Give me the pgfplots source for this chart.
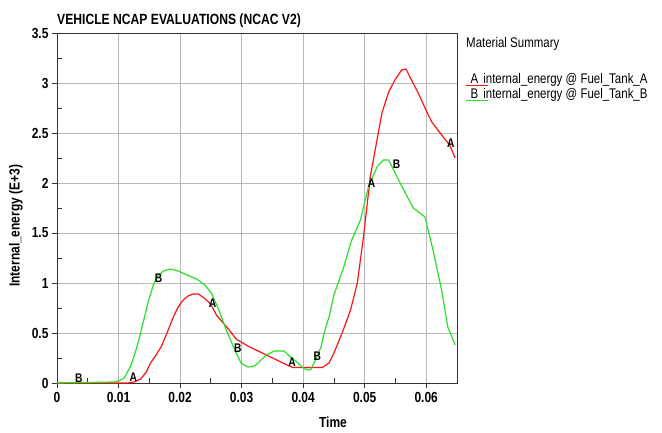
\documentclass[border=0pt]{standalone}
\usepackage{pgfplots}
\pgfplotsset{compat=1.18}
\usepackage{fontspec}
\setmainfont{Liberation Sans}[FakeStretch=0.82]
\definecolor{cred}{RGB}{255,20,20}
\definecolor{cgreen}{RGB}{40,225,40}
\newcommand{\tfont}{\fontsize{14.6}{16}\selectfont}
\newcommand{\lfont}{\fontsize{14}{16}\selectfont}
\begin{document}
\begin{tikzpicture}[x=1pt,y=1pt]
\begin{axis}[
 scale only axis, width=400pt, height=350pt,
 xmin=0, xmax=0.065, ymin=0, ymax=3.5,
 scaled x ticks=false, scaled y ticks=false,
 xtick={0,0.01,0.02,0.03,0.04,0.05,0.06},
 xticklabels={0,0.01,0.02,0.03,0.04,0.05,0.06},
 ytick={0,0.5,1,1.5,2,2.5,3,3.5},
 yticklabels={0,0.5,1,1.5,2,2.5,3,3.5},
 xtick pos=bottom, ytick pos=left, tick align=outside, major tick length=5pt,
 grid=major, major grid style={gray!55, line width=0.8pt},
 axis line style={black!80, line width=0.8pt},
 tick style={black!80, line width=0.8pt},
 ticklabel style={font=\tfont\bfseries},
 xticklabel style={yshift=-1pt},
 extra x ticks={0.005,0.015,0.025,0.035,0.045,0.055},
 extra x tick labels={},
 extra x tick style={xmajorgrids=false, tick align=inside},
 extra y ticks={0.25,0.75,1.25,1.75,2.25,2.75,3.25},
 extra y tick labels={},
 extra y tick style={ymajorgrids=false, tick align=inside},
 clip=false,
]
\addplot[cred, line width=1.2pt] coordinates {
(0,0) (0.0115,0) (0.0125,0.01) (0.0136,0.04) (0.0145,0.11) (0.0152,0.2)
(0.0161,0.28) (0.017,0.37) (0.018,0.52) (0.0189,0.66) (0.0197,0.76)
(0.0205,0.83) (0.0213,0.87) (0.0221,0.89) (0.023,0.89) (0.0239,0.85)
(0.0248,0.80) (0.0254,0.74) (0.0259,0.68) (0.027,0.6) (0.028,0.53)
(0.0291,0.44) (0.0302,0.40) (0.0313,0.36) (0.0327,0.32) (0.034,0.28)
(0.0354,0.24) (0.0367,0.20) (0.0383,0.155) (0.0431,0.155) (0.0442,0.20)
(0.045,0.30) (0.0458,0.42) (0.0467,0.56) (0.0477,0.73) (0.0488,1.0)
(0.0498,1.46) (0.0509,2.06) (0.052,2.43) (0.0528,2.70) (0.0539,2.91)
(0.0549,3.03) (0.056,3.13) (0.0567,3.14) (0.0576,3.03) (0.0587,2.90)
(0.0601,2.71) (0.0609,2.61) (0.0625,2.48) (0.0638,2.38) (0.0647,2.25)
};
\addplot[cgreen, line width=1.2pt] coordinates {
(0,0) (0.0092,0.01) (0.01,0.02) (0.0109,0.05) (0.0119,0.16) (0.0126,0.28)
(0.0133,0.43) (0.0141,0.63) (0.0149,0.83) (0.0156,0.97) (0.0162,1.06)
(0.0173,1.12) (0.0184,1.14) (0.0197,1.12) (0.0211,1.08) (0.0227,1.04)
(0.024,0.98) (0.0251,0.90) (0.0258,0.80) (0.0265,0.70) (0.0275,0.53)
(0.0282,0.43) (0.0289,0.33) (0.0299,0.20) (0.031,0.16) (0.0321,0.17)
(0.033,0.22) (0.034,0.28) (0.0353,0.32) (0.0369,0.32) (0.0379,0.26)
(0.0388,0.22) (0.0402,0.14) (0.0412,0.13) (0.042,0.23) (0.0429,0.36)
(0.0434,0.5) (0.0442,0.66) (0.045,0.88) (0.0458,1.02) (0.0466,1.16)
(0.0474,1.33) (0.0479,1.43) (0.0493,1.63) (0.0506,1.96) (0.052,2.16)
(0.053,2.23) (0.0539,2.23) (0.0555,2.03) (0.0579,1.75) (0.0598,1.66)
(0.0611,1.33) (0.0625,0.93) (0.0635,0.56) (0.0647,0.38)
};
\addplot[draw=none, mark=none, nodes near coords={A},
 every node near coord/.style={anchor=center, inner sep=0pt, font=\fontsize{12.5}{13}\selectfont\bfseries}]
 coordinates {(0.0124,0.06) (0.0253,0.80) (0.0382,0.21) (0.0511,2.0) (0.064,2.4)};
\addplot[draw=none, mark=none, nodes near coords={B},
 every node near coord/.style={anchor=center, inner sep=0pt, font=\fontsize{12.5}{13}\selectfont\bfseries}]
 coordinates {(0.00355,0.05) (0.0165,1.05) (0.0294,0.35) (0.0423,0.27) (0.0552,2.19)};
\node[anchor=west, inner sep=0pt, font=\fontsize{14.8}{16}\selectfont\bfseries] at (rel axis cs:0.0,1.034) {VEHICLE NCAP EVALUATIONS (NCAC V2)};
\node[anchor=west, inner sep=0pt, font=\lfont] at (rel axis cs:1.0225,0.9686) {Material Summary};
\node[anchor=west, inner sep=0pt, font=\lfont] at (rel axis cs:1.0225,0.866) {\rlap{\color{cred}\rule[-2.5pt]{22pt}{1.2pt}}\hspace*{4.5pt}A\hspace*{5pt}internal\_energy @ Fuel\_Tank\_A};
\node[anchor=west, inner sep=0pt, font=\lfont] at (rel axis cs:1.0225,0.822) {\rlap{\color{cgreen}\rule[-2.5pt]{22pt}{1.2pt}}\hspace*{4.5pt}B\hspace*{5pt}internal\_energy @ Fuel\_Tank\_B};
\node[rotate=90, inner sep=0pt, font=\tfont\bfseries] at (rel axis cs:-0.103,0.449) {Internal\_energy (E+3)};
\node[inner sep=0pt, font=\tfont\bfseries] at (rel axis cs:0.69,-0.113) {Time};
\coordinate (BL) at (rel axis cs:-0.1425,-0.14);
\coordinate (TR) at (rel axis cs:1.5125,1.0943);
\end{axis}
\pgfresetboundingbox
\path (BL) rectangle (TR);
\end{tikzpicture}
\end{document}
